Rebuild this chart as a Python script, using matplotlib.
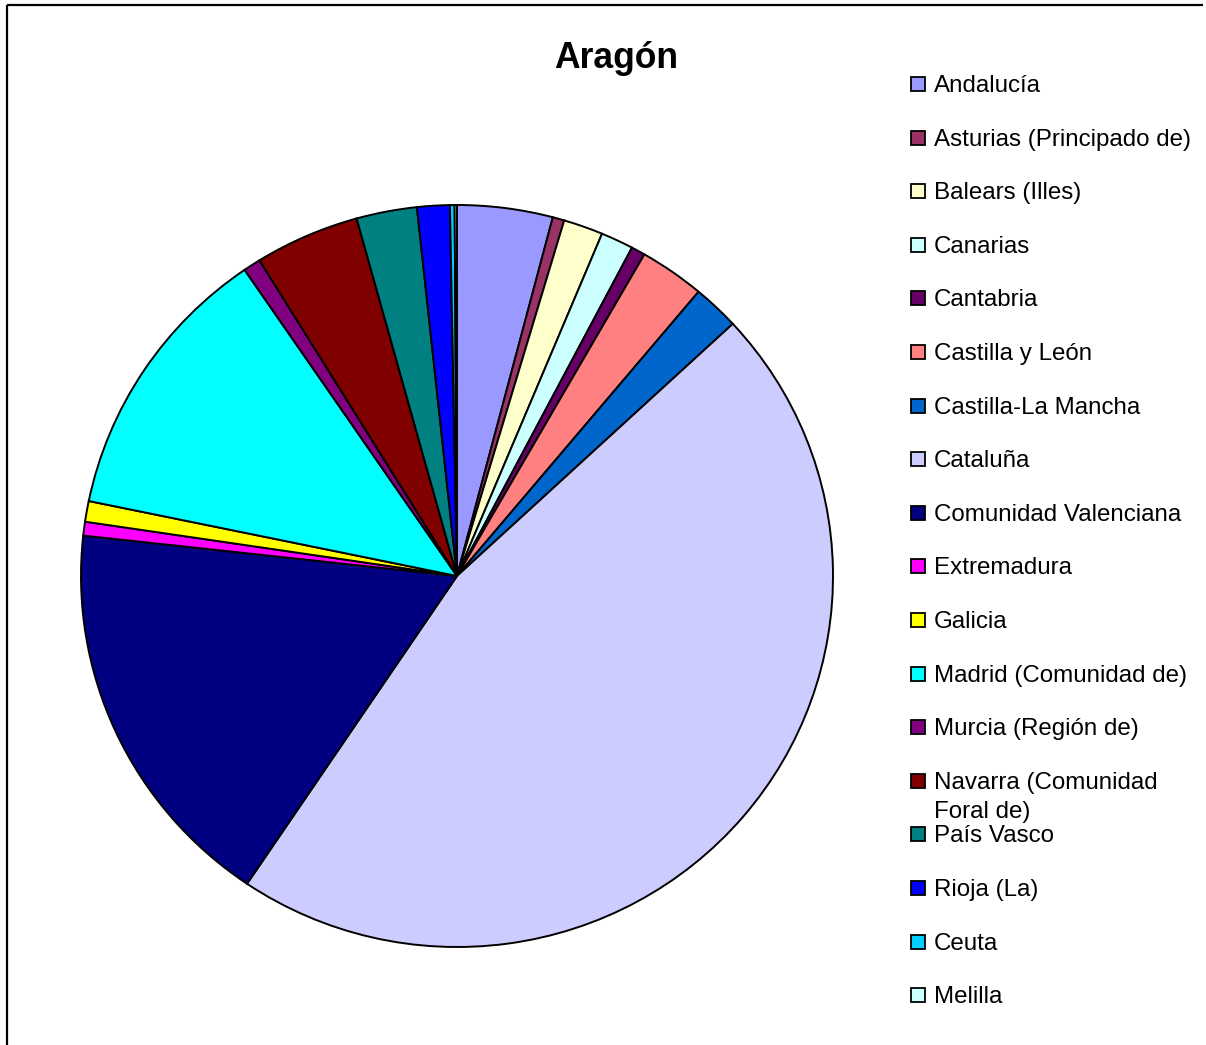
import matplotlib
matplotlib.use("Agg")
import matplotlib.pyplot as plt
from matplotlib.patches import Rectangle

plt.rcParams["font.family"] = ["Liberation Sans", "DejaVu Sans"]

regions = ["Andalucía", "Asturias (Principado de)", "Balears (Illes)", "Canarias",
           "Cantabria", "Castilla y León", "Castilla-La Mancha", "Cataluña",
           "Comunidad Valenciana", "Extremadura", "Galicia", "Madrid (Comunidad de)",
           "Murcia (Región de)", "Navarra (Comunidad\nForal de)", "País Vasco",
           "Rioja (La)", "Ceuta", "Melilla"]
shares = [4.1, 0.5, 1.7, 1.4, 0.6, 2.8, 2.0, 46.3, 17.3, 0.6, 0.9, 12.2,
          0.75, 4.5, 2.6, 1.4, 0.2, 0.1]
colors = ["#9999FF", "#993366", "#FFFFCC", "#CCFFFF", "#660066", "#FF8080",
          "#0066CC", "#CCCCFF", "#000080", "#FF00FF", "#FFFF00", "#00FFFF",
          "#800080", "#800000", "#008080", "#0000FF", "#00CCFF", "#CCFFFF"]

W, H = 1206, 1045
fig = plt.figure(figsize=(W / 100, H / 100), dpi=100)

# overlay in pixel coordinates for frame, title and legend
ov = fig.add_axes([0, 0, 1, 1])
ov.set_xlim(0, W)
ov.set_ylim(H, 0)
ov.axis("off")
ov.plot([7, 1203], [5, 5], color="black", lw=1.6, solid_capstyle="butt")
ov.plot([7, 7], [5, H + 5], color="black", lw=1.6, solid_capstyle="butt")

ov.text(616, 58, "Aragón", fontsize=25.6, fontweight="bold", ha="center", va="center")

row0, step = 84, 53.6
for i, (lab, col) in enumerate(zip(regions, colors)):
    y = row0 + i * step
    ov.add_patch(Rectangle((911, y - 7), 14, 14, facecolor=col,
                           edgecolor="black", lw=1.3))
    ov.text(934, y - 9, lab, fontsize=17.4, ha="left", va="top",
            linespacing=1.45)

# pie
ax = fig.add_axes([81 / W, (H - 947) / H, 752 / W, 742 / H])
ax.pie(shares, colors=colors, startangle=90, counterclock=False,
       wedgeprops=dict(edgecolor="black", linewidth=1.4))
ax.set_aspect("auto")
ax.set_xlim(-1, 1)
ax.set_ylim(-1, 1)
ax.axis("off")

plt.savefig("out.png", dpi=100)
